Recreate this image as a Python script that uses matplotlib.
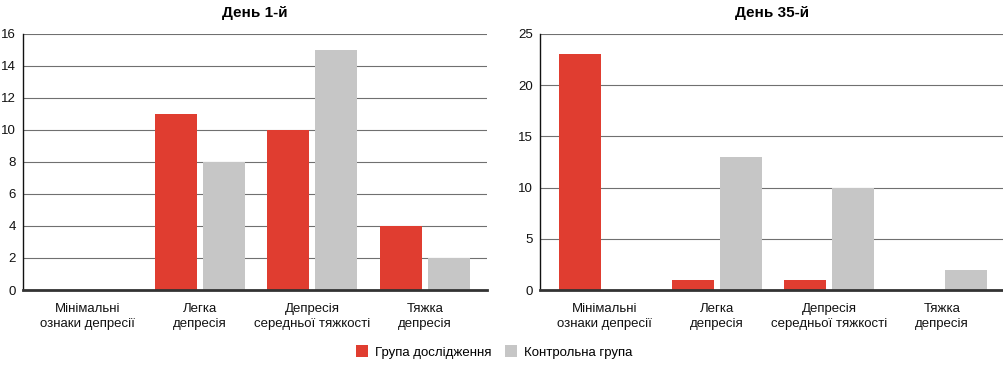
import numpy as np
import matplotlib
matplotlib.use('Agg')
import matplotlib.pyplot as plt
from matplotlib.patches import Patch

plt.rcParams['font.family'] = ['Liberation Sans', 'DejaVu Sans']

# дані
categories = ['Мінімальні\nознаки депресії', 'Легка\nдепресія',
              'Депресія\nсередньої тяжкості', 'Тяжка\nдепресія']
day1_study = [0, 11, 10, 4]
day1_control = [0, 8, 15, 2]
day35_study = [23, 1, 1, 0]
day35_control = [0, 13, 10, 2]

day1_ticks = [0, 2, 4, 6, 8, 10, 12, 14, 16]
day35_ticks = [0, 5, 10, 15, 20, 25]

RED = '#e03d30'
GREY = '#c6c6c6'

fig = plt.figure(figsize=(10.04, 3.78), dpi=100, facecolor='white')
ax1 = fig.add_axes([0.0229, 0.2328, 0.4622, 0.6773])
ax2 = fig.add_axes([0.5378, 0.2328, 0.4622, 0.6773])


def draw(ax, study, control, ticks, title):
    x = np.arange(len(categories))
    w = 0.373
    off = 0.213
    ax.bar(x - off, study, w, color=RED, linewidth=0, zorder=3)
    ax.bar(x + off, control, w, color=GREY, linewidth=0, zorder=3)
    ax.set_xlim(-0.57, 3.55)
    ax.set_ylim(0, ticks[-1])
    ax.set_yticks(ticks)
    ax.set_xticks(x)
    ax.set_xticklabels(categories, fontsize=9.5, linespacing=1.4)
    ax.tick_params(axis='both', length=0, labelsize=9.5, colors='#111111')
    ax.tick_params(axis='y', pad=5)
    ax.tick_params(axis='x', pad=9)
    ax.grid(axis='y', color='#707070', linewidth=0.8, zorder=0)
    ax.set_axisbelow(True)
    for s in ['top', 'right']:
        ax.spines[s].set_visible(False)
    ax.spines['left'].set_color('#111111')
    ax.spines['left'].set_linewidth(1.0)
    ax.spines['bottom'].set_color('#333333')
    ax.spines['bottom'].set_linewidth(2.0)
    ax.spines['bottom'].set_zorder(4)
    ax.set_title(title, fontsize=11, fontweight='bold', pad=12)


draw(ax1, day1_study, day1_control, day1_ticks, 'День 1-й')
draw(ax2, day35_study, day35_control, day35_ticks, 'День 35-й')

handles = [Patch(facecolor=RED, edgecolor='none', label='Група дослідження'),
           Patch(facecolor=GREY, edgecolor='none', label='Контрольна група')]
fig.legend(handles=handles, loc='center', bbox_to_anchor=(0.492, 0.069), ncol=2,
           frameon=False, fontsize=9.5, handlelength=0.95, handleheight=0.95,
           handletextpad=0.5, columnspacing=1.0)

fig.savefig('out.png', dpi=100, facecolor='white')
